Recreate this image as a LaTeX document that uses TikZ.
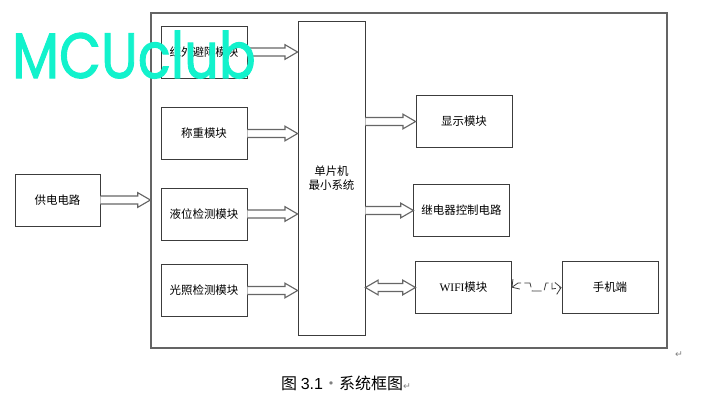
\documentclass[tikz,border=0pt]{standalone}
\usepackage{fontspec}
\setmainfont{Noto Sans CJK SC}
\newfontfamily\wmfont[FakeBold=1.6]{Poppins}
\newfontfamily\serfont{Liberation Serif}
\newfontfamily\arialfont{Liberation Sans}
\newfontfamily\djvfont{DejaVu Sans}
\usetikzlibrary{calc,arrows.meta}
\definecolor{wmcol}{RGB}{18,242,204}
\definecolor{linecol}{RGB}{60,60,60}
\definecolor{framecol}{RGB}{100,100,100}
\tikzset{
  box/.style={draw=linecol, line width=0.6pt, inner sep=0pt, align=center,
    font=\fontsize{8.6}{11}\selectfont},
  lbox/.style={box, minimum width=64.5pt, minimum height=39pt},
  rbox/.style={box, minimum width=71.5pt, minimum height=38.5pt},
  frm/.style={draw=framecol, line width=0.9pt, inner sep=0pt},
  blk/.style={draw=black!60, line width=0.85pt, fill=white, line join=miter},
  zap/.style={draw=linecol, line width=0.6pt, dash pattern=on 7.5pt off 2.5pt,
    {Straight Barb[length=4pt,width=9pt]}-{Straight Barb[length=4pt,width=9pt]}}
}
% fat hollow arrow from #1.east to #2.west at the height of #3
\newcommand\fatarrow[3]{\draw[blk] let \p1=(#1.east),\p2=(#2.west),\p3=(#3) in
  (\x1,\y3+3pt) -- (\x2-9.5pt,\y3+3pt) -- (\x2-9.5pt,\y3+5.5pt) -- (\x2,\y3)
  -- (\x2-9.5pt,\y3-5.5pt) -- (\x2-9.5pt,\y3-3pt) -- (\x1,\y3-3pt);}
\newcommand\fatdarrow[3]{\draw[blk] let \p1=(#1.east),\p2=(#2.west),\p3=(#3) in
  (\x1,\y3) -- (\x1+9.5pt,\y3+5.5pt) -- (\x1+9.5pt,\y3+3pt) -- (\x2-9.5pt,\y3+3pt)
  -- (\x2-9.5pt,\y3+5.5pt) -- (\x2,\y3) -- (\x2-9.5pt,\y3-5.5pt) -- (\x2-9.5pt,\y3-3pt)
  -- (\x1+9.5pt,\y3-3pt) -- (\x1+9.5pt,\y3-5.5pt) -- cycle;}
\begin{document}
\begin{tikzpicture}[x=0.75pt,y=-0.75pt]
\useasboundingbox (0,0) rectangle (706,412);
% outer frame
\node[frm, minimum width=387pt, minimum height=251.25pt] (frame) at (409,180.5) {};
% left column
\node[lbox] (ir) at (204,52) {红外避障模块};
\node[lbox] (weigh) at (204,133.5) {称重模块};
\node[lbox] (level) at (204,214) {液位检测模块};
\node[lbox] (light) at (204,290.5) {光照检测模块};
\node[box, minimum width=63.75pt, minimum height=39pt] (power) at (57.5,200) {供电电路};
% MCU
\node[box, minimum width=50.25pt, minimum height=235.5pt] (mcu) at (331.5,178) {单片机\\最小系统};
% right column
\node[rbox, minimum width=72pt] (disp) at (464,121.5) {显示模块};
\node[rbox] (relay) at (461.5,210.5) {继电器控制电路};
\node[rbox] (wifi) at (463.5,287.5) {{\serfont WIFI}模块};
\node[rbox, minimum width=72pt] (phone) at (610,287.5) {手机端};
% arrows
\fatarrow{ir}{mcu}{ir}
\fatarrow{weigh}{mcu}{weigh}
\fatarrow{level}{mcu}{level}
\fatarrow{light}{mcu}{light}
\fatarrow{power}{frame}{power}
\fatarrow{mcu}{disp}{disp}
\fatarrow{mcu}{relay}{relay}
\fatdarrow{mcu}{wifi}{wifi}
% wireless link
\draw[zap] (wifi.east) -- (518,283) -- (530,283) -- (532,291) -- (544,291)
  -- (546,283) -- (552,283) -- (552,289) -- (phone.west);
% caption and marks
\node[font=\fontsize{12}{14}\selectfont, inner sep=0pt] (cap) at (346,383)
  {图 {\arialfont 3.1}{\color{gray}·}系统框图{\color{gray}\djvfont\fontsize{7}{8}\selectfont ↵}};
\node[font=\djvfont\fontsize{7}{8}\selectfont, text=gray, inner sep=0pt] (ret) at (679,355) {↵};
% watermark
\node[anchor=base west, inner sep=0pt, text=wmcol, xscale=0.85,
  font=\wmfont\fontsize{48}{48}\selectfont] (wm) at (12,78) {MCUclub};
\end{tikzpicture}
\end{document}
